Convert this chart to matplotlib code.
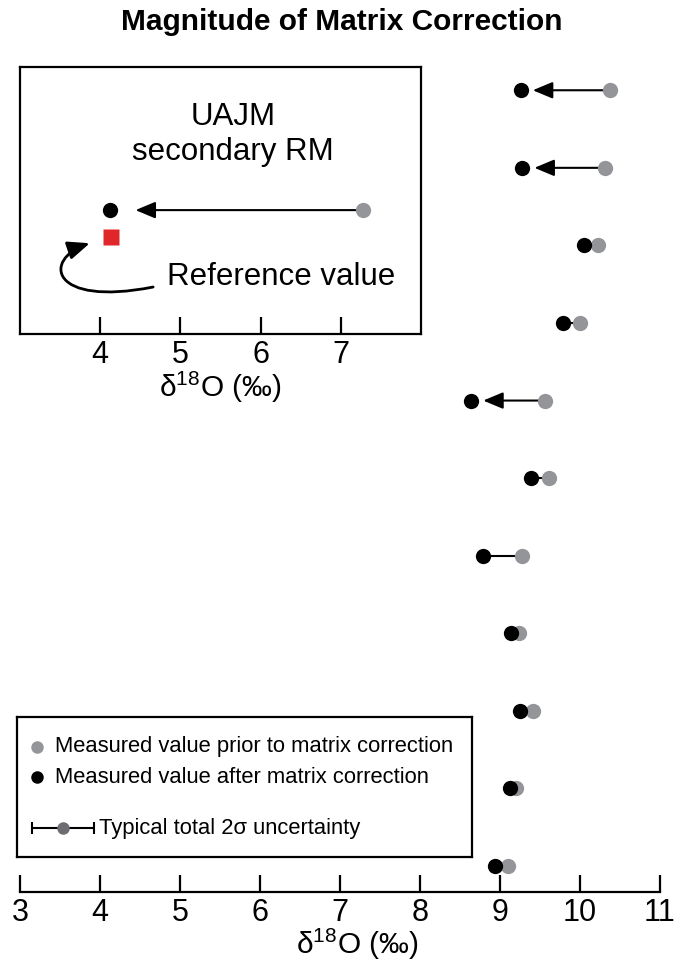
import numpy as np
from matplotlib import pyplot as plt
from matplotlib.patches import FancyArrowPatch, ArrowStyle
from matplotlib.path import Path

plt.rcParams['font.family'] = ['Liberation Sans', 'DejaVu Sans']
plt.rcParams['mathtext.fontset'] = 'custom'
plt.rcParams['mathtext.rm'] = 'Liberation Sans'

# d18O values, top row first
prior = [10.38, 10.31, 10.22, 10.00, 9.56, 9.61, 9.27, 9.24, 9.41, 9.20, 9.10]
after = [9.26, 9.28, 10.05, 9.79, 8.64, 9.39, 8.79, 9.14, 9.25, 9.12, 8.94]
xticks = [3, 4, 5, 6, 7, 8, 9, 10, 11]

# UAJM secondary RM (inset)
rm_prior = 7.28
rm_after = 4.12
rm_ref = 4.13
inset_ticks = [4, 5, 6, 7]

gray = '#939598'
red = '#e1262b'
xlab = r'δ$^{18}$O (‰)'
head = ArrowStyle('-|>', head_length=0.55, head_width=0.23)

fig = plt.figure(figsize=(6.75, 9.65), dpi=100)

# ---- main panel
ax = fig.add_axes([20/675., 1-892/965., 640/675., 832/965.])
n = len(prior)
ypos = np.arange(n)[::-1]
for i in range(n):
    if prior[i] - after[i] > 0.7:
        ax.add_patch(FancyArrowPatch((prior[i], ypos[i]), (after[i] + 0.15, ypos[i]),
                                     arrowstyle=head, mutation_scale=22, lw=1.5,
                                     color='black', shrinkA=0, shrinkB=0, zorder=2))
    else:
        ax.plot([after[i], prior[i]], [ypos[i], ypos[i]], c='black', lw=1.5, zorder=2)
ax.plot(prior, ypos, 'o', ms=11, c=gray, mec='none', zorder=3)
ax.plot(after, ypos, 'o', ms=11, c='black', mec='none', zorder=4)

ax.set_xlim([3, 11])
ax.set_ylim([-0.335, 10.39])
ax.set_xticks(xticks)
ax.set_xticklabels([str(t) for t in xticks], fontsize=22)
ax.tick_params(axis='x', direction='in', length=12, width=1.6, pad=4)
ax.set_yticks([])
for s in ['left', 'right', 'top']:
    ax.spines[s].set_visible(False)
ax.spines['bottom'].set_linewidth(1.6)
ax.set_xlabel(xlab, fontsize=21.5, labelpad=2)
ax.xaxis.set_label_coords(0.527, -0.041)

fig.text(0.507, 0.977, 'Magnitude of Matrix Correction', fontsize=21.5,
         fontweight='bold', ha='center', va='center')

# ---- inset
ins = fig.add_axes([20/675., 1-334/965., 401/675., 267/965.])
ins.set_facecolor('white')
ins.set_xlim([3, 8])
ins.set_ylim([0, 1])
ins.add_patch(FancyArrowPatch((rm_prior, 0.464), (rm_after + 0.32, 0.464),
                              arrowstyle=head, mutation_scale=22, lw=1.5,
                              color='black', shrinkA=0, shrinkB=0))
ins.plot([rm_prior], [0.464], 'o', ms=11, c=gray, mec='none')
ins.plot([rm_after], [0.464], 'o', ms=11, c='black', mec='none')
ins.plot([rm_ref], [0.363], 's', ms=12, c=red, mec='none')
verts = [(4.66, 0.176), (3.37, 0.10), (3.28, 0.28), (3.87, 0.34)]
codes = [Path.MOVETO, Path.CURVE4, Path.CURVE4, Path.CURVE4]
ins.add_patch(FancyArrowPatch(path=Path(verts, codes), arrowstyle=head,
                              mutation_scale=24, lw=2, color='black'))
ins.text(5.66, 0.748, 'UAJM\nsecondary RM', fontsize=22.5, ha='center', va='center',
         linespacing=1.2)
ins.text(4.83, 0.213, 'Reference value', fontsize=22.5, ha='left', va='center')
ins.set_xticks(inset_ticks)
ins.set_xticklabels([str(t) for t in inset_ticks], fontsize=22)
ins.tick_params(axis='x', direction='in', length=12, width=1.6, pad=4)
ins.set_yticks([])
for s in ins.spines.values():
    s.set_linewidth(1.6)
ins.set_xlabel(xlab, fontsize=21.5, labelpad=0)

# ---- legend box
lax = fig.add_axes([17/675., 1-857/965., 455/675., 140/965.])
lax.set_xlim([0, 1])
lax.set_ylim([0, 1])
lax.set_xticks([])
lax.set_yticks([])
for s in lax.spines.values():
    s.set_linewidth(1.6)
lax.plot([0.044], [0.786], 'o', ms=9, c=gray, mec='none')
lax.plot([0.044], [0.571], 'o', ms=9, c='black', mec='none')
lax.text(0.083, 0.786, 'Measured value prior to matrix correction', fontsize=15.8, va='center')
lax.text(0.083, 0.571, 'Measured value after matrix correction', fontsize=15.8, va='center')
lax.errorbar([0.102], [0.207], xerr=[0.068], fmt='o', ms=9, c='#6d6e71', mec='none',
             ecolor='black', elinewidth=1.5, capsize=4, capthick=1.5)
lax.text(0.18, 0.207, 'Typical total 2σ uncertainty', fontsize=15.8, va='center')

fig.savefig('out.png', dpi=100)
